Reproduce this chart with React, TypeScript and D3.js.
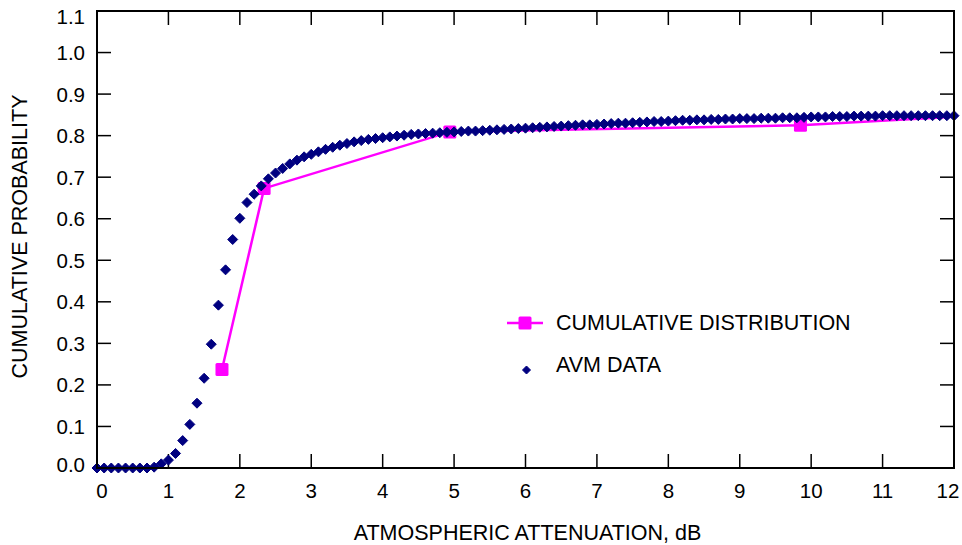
import React from "react";
import * as d3 from "d3";

// AVM data: probability read every 0.1 dB from 0 to 12 dB
const avmX = d3.range(0, 121).map((i) => i / 10);
const avmY = [
  0, 0, 0, 0, 0, 0, 0, 0, 0.002, 0.01,
  0.019, 0.035, 0.066, 0.105, 0.156, 0.216, 0.298, 0.392, 0.477, 0.55,
  0.601, 0.639, 0.659, 0.679, 0.696, 0.71, 0.721, 0.732, 0.741, 0.749,
  0.755, 0.761, 0.767, 0.772, 0.777, 0.781, 0.785, 0.788, 0.791, 0.793,
  0.795, 0.797, 0.799, 0.801, 0.803, 0.804, 0.805, 0.806, 0.807, 0.808,
  0.809, 0.81, 0.811, 0.811, 0.812, 0.813, 0.814, 0.815, 0.816, 0.817,
  0.818, 0.819, 0.82, 0.821, 0.822, 0.823, 0.824, 0.825, 0.826, 0.826,
  0.827, 0.828, 0.829, 0.83, 0.83, 0.831, 0.832, 0.833, 0.834, 0.834,
  0.835, 0.836, 0.837, 0.837, 0.838, 0.838, 0.839, 0.839, 0.84, 0.84,
  0.841, 0.841, 0.841, 0.842, 0.842, 0.842, 0.843, 0.843, 0.843, 0.844,
  0.845, 0.845, 0.845, 0.846, 0.846, 0.846, 0.847, 0.847, 0.847, 0.847,
  0.848, 0.848, 0.848, 0.848, 0.848, 0.848, 0.848, 0.848, 0.848, 0.848,
  0.848,
];

// cumulative distribution points
const cdX = [1.75, 2.34, 4.94, 9.85, 19.7];
const cdY = [0.237, 0.673, 0.809, 0.825, 0.92];

const xTicks = d3.range(0, 13);
const yTicks = d3.range(0, 12).map((i) => i / 10);

const width = 962;
const height = 545;
const margin = { top: 11, right: 8, bottom: 77, left: 97 };

const NAVY = "#000080";
const MAGENTA = "#ff00ff";
const FONT = "'Liberation Sans', Arial, sans-serif";

function diamond(cx: number, cy: number, r: number) {
  return `M${cx},${cy - r}L${cx + r},${cy}L${cx},${cy + r}L${cx - r},${cy}Z`;
}

export default function App() {
  const x0 = margin.left;
  const x1 = width - margin.right; // 954
  const y0 = height - margin.bottom; // 468
  const y1 = margin.top;

  const x = d3.scaleLinear().domain([0, 12]).range([x0, x1]);
  const y = d3.scaleLinear().domain([0, 1.1]).range([y0, y1]);

  const cdLine = d3
    .line<number>()
    .x((_, i) => x(cdX[i]))
    .y((d) => y(d));

  const tickLen = 14;

  return (
    <svg
      width={width}
      height={height}
      style={{ position: "absolute", left: 0, top: 0, background: "#fff" }}
      fontFamily={FONT}
    >
      <defs>
        <clipPath id="plot">
          <rect x={x0} y={y1} width={x1 - x0} height={y0 - y1} />
        </clipPath>
      </defs>

      {/* ticks */}
      <g stroke="#000" strokeWidth={1.5}>
        {xTicks.map((t) => (
          <g key={"xt" + t}>
            <line x1={x(t)} x2={x(t)} y1={y0} y2={y0 - tickLen} />
            <line x1={x(t)} x2={x(t)} y1={y1} y2={y1 + tickLen} />
          </g>
        ))}
        {yTicks.map((t) => (
          <g key={"yt" + t}>
            <line x1={x0} x2={x0 + tickLen} y1={y(t)} y2={y(t)} />
            <line x1={x1} x2={x1 - tickLen} y1={y(t)} y2={y(t)} />
          </g>
        ))}
      </g>

      {/* tick labels */}
      <g fontSize={20.5} fill="#000">
        {xTicks.map((t, i) => (
          <text
            key={"xl" + t}
            x={x(t) + (i === 0 ? 5 : i === xTicks.length - 1 ? -6 : 0)}
            y={498}
            textAnchor="middle"
          >
            {t}
          </text>
        ))}
        {yTicks.map((t, i) => (
          <text
            key={"yl" + t}
            x={85}
            y={y(t) + (i === 0 ? -4 : i === yTicks.length - 1 ? 5 : 0)}
            textAnchor="end"
            dominantBaseline="central"
          >
            {t.toFixed(1)}
          </text>
        ))}
      </g>

      {/* cumulative distribution */}
      <g clipPath="url(#plot)">
        <path d={cdLine(cdY) || ""} fill="none" stroke={MAGENTA} strokeWidth={2.5} />
        {cdY.map((v, i) => (
          <rect
            key={"cd" + i}
            x={x(cdX[i]) - 6.5}
            y={y(v) - 6.5}
            width={13}
            height={13}
            rx={1.5}
            fill={MAGENTA}
          />
        ))}
      </g>

      {/* AVM data */}
      <g fill={NAVY} stroke={NAVY} strokeWidth={1} strokeLinejoin="round">
        {avmY.map((v, i) => (
          <path key={"avm" + i} d={diamond(x(avmX[i]), y(v), 5)} />
        ))}
      </g>

      {/* frame */}
      <rect
        x={x0}
        y={y1}
        width={x1 - x0}
        height={y0 - y1}
        fill="none"
        stroke="#000"
        strokeWidth={2}
      />

      {/* legend */}
      <g>
        <line x1={507} x2={543} y1={323} y2={323} stroke={MAGENTA} strokeWidth={2.5} />
        <rect x={518.5} y={316.5} width={13} height={13} rx={1.5} fill={MAGENTA} />
        <text x={556} y={330} fontSize={21.5}>
          CUMULATIVE DISTRIBUTION
        </text>
        <path d={diamond(526.5, 370, 4)} fill={NAVY} stroke={NAVY} strokeLinejoin="round" />
        <text x={556} y={372} fontSize={21.5}>
          AVM DATA
        </text>
      </g>

      {/* axis titles */}
      <text x={(x0 + x1) / 2 + 2} y={540} fontSize={21.5} textAnchor="middle">
        ATMOSPHERIC ATTENUATION, dB
      </text>
      <text
        transform={`translate(27,${(y0 + y1) / 2 - 3}) rotate(-90)`}
        fontSize={21.5}
        textAnchor="middle"
      >
        CUMULATIVE PROBABILITY
      </text>
    </svg>
  );
}
